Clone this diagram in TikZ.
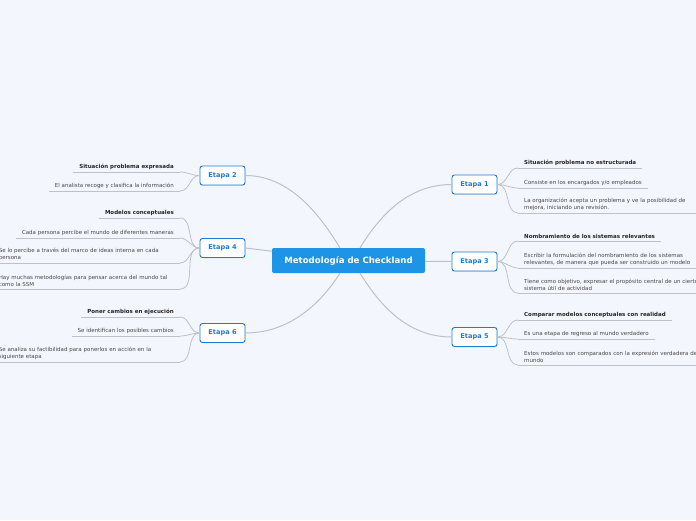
\documentclass[tikz,border=0pt]{standalone}
\usepackage{fontspec}
\setmainfont{DejaVu Sans}
\usetikzlibrary{shadows}
\definecolor{fondo}{HTML}{F3F6FD}
\definecolor{azul}{HTML}{1D94E6}
\definecolor{azulosc}{HTML}{1E7BD0}
\definecolor{gris}{HTML}{BDC1CA}
\definecolor{texto}{HTML}{474747}

\begin{document}
\begin{tikzpicture}[x=1pt,y=-1pt,
  raiz/.style={fill=azul,rounded corners=2pt,minimum width=153pt,minimum height=25pt,
    text=white,font=\fontsize{8.6}{10}\selectfont\bfseries},
  etapa/.style={draw=azulosc,line width=0.9pt,fill=white,rounded corners=2.5pt,
    minimum width=45pt,minimum height=19pt,text=azulosc,
    font=\fontsize{6.6}{7.5}\selectfont\bfseries,
    drop shadow={opacity=0.2,shadow xshift=0.4pt,shadow yshift=-0.8pt}},
  hoja/.style={inner xsep=6pt,inner ysep=2.5pt,align=left,text=texto,
    font=\fontsize{5.5}{7}\selectfont},
  tit/.style={font=\fontsize{5.5}{7}\selectfont\bfseries,text=black!85},
  corta/.style={},
  larga/.style={text width=230pt},
  largai/.style={text width=175pt},
  tronco/.style={draw=gris,line width=1pt},
  rama/.style={draw=gris,line width=0.8pt}]
  \useasboundingbox (0,0) rectangle (696,520);
  \fill[fondo] (0,0) rectangle (696,520);

  \node[raiz] (root) at (348.5,260.5) {Metodología de Checkland};
  \node[etapa] (e1) at (474.5,184.5) {Etapa 1};
  \node[etapa] (e2) at (222.5,175.5) {Etapa 2};
  \node[etapa] (e3) at (474.5,261.5) {Etapa 3};
  \node[etapa] (e4) at (222.5,248) {Etapa 4};
  \node[etapa] (e5) at (474.5,337) {Etapa 5};
  \node[etapa] (e6) at (222.5,333) {Etapa 6};

  \draw[tronco] (e2.east) .. controls +(50,0) and +(-14,-22) .. ([xshift=-8.5pt]root.north);
  \draw[tronco] (e6.east) .. controls +(50,0) and +(-14,22) .. ([xshift=-8.5pt]root.south);
  \draw[tronco] (e1.west) .. controls +(-50,0) and +(14,-22) .. ([xshift=11.5pt]root.north);
  \draw[tronco] (e5.west) .. controls +(-50,0) and +(14,22) .. ([xshift=11.5pt]root.south);
  \draw[tronco] (e4.east) -- (root);
  \draw[tronco] (e3.west) -- (root);

  % right side
  \foreach \e/\k/\y/\st/\txt in {
      e1/a/168/tit/{Situación problema no estructurada},
      e1/b/188/corta/{Consiste en los encargados y/o empleados},
      e1/c/213/larga/{La organización acepta un problema y ve la posibilidad de\\mejora, iniciando una revisión.},
      e3/a/241/tit/{Nombramiento de los sistemas relevantes},
      e3/b/268/larga/{Escribir la formulación del nombramiento de los sistemas\\relevantes, de manera que pueda ser construido un modelo},
      e3/c/293/larga/{Tiene como objetivo, expresar el propósito central de un cierto\\sistema útil de actividad},
      e5/a/320/tit/{Comparar modelos conceptuales con realidad},
      e5/b/339/corta/{Es una etapa de regreso al mundo verdadero},
      e5/c/365/larga/{Estos modelos son comparados con la expresión verdadera del\\mundo}}
  {
    \node[hoja,\st,anchor=south west] (\e\k) at (518,\y) {\txt};
    \draw[rama] (\e\k.south west) -- (\e\k.south east);
    \draw[rama] (\e.east) to[out=0,in=180] (\e\k.south west);
  }

  % left side
  \foreach \e/\k/\y/\st/\txt in {
      e2/a/172/tit/{Situación problema expresada},
      e2/b/191/corta/{El analista recoge y clasifica la información},
      e4/a/218/tit/{Modelos conceptuales},
      e4/b/238/corta/{Cada persona percibe el mundo de diferentes maneras},
      e4/c/263/largai/{Se lo percibe a través del marco de ideas interna en cada\\persona},
      e4/d/289/largai/{Hay muchas metodologías para pensar acerca del mundo tal\\como la SSM},
      e6/a/317/tit/{Poner cambios en ejecución},
      e6/b/336/corta/{Se identifican los posibles cambios},
      e6/c/362/largai/{Se analiza su factibilidad para ponerlos en acción en la\\siguiente etapa}}
  {
    \node[hoja,\st,anchor=south east] (\e\k) at (180,\y) {\txt};
    \draw[rama] (\e\k.south west) -- (\e\k.south east);
    \draw[rama] (\e.west) to[out=180,in=0] (\e\k.south east);
  }
\end{tikzpicture}
\end{document}
